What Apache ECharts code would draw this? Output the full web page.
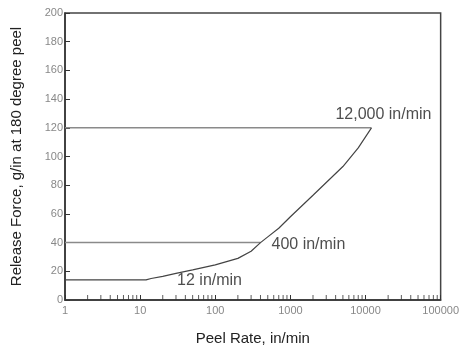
<!DOCTYPE html>
<html>
<head>
<meta charset="utf-8">
<script src="https://cdn.jsdelivr.net/npm/echarts@6/dist/echarts.min.js"></script>
<style>
  html, body { margin: 0; padding: 0; background: #fff; }
  #chart { width: 462px; height: 351px; }
</style>
</head>
<body>
<div id="chart"></div>
<script>
// peel rate (in/min) vs release force (g/in)
var peelRate = [1, 12, 14, 20, 30, 50, 100, 200, 300, 400, 500, 700, 1000, 2000, 5000, 8000, 12000];
var releaseForce = [14, 14, 15, 16.5, 18.5, 21, 24.5, 29, 34, 40, 44, 50, 58, 73, 93, 106, 120];

var refRates = [400, 12000];
var refForces = [40, 120];

var labelPoints = [[12000, 120], [400, 40], [12, 14]];
var labelTexts = ["12,000 in/min", "400 in/min", "12 in/min"];

var minorMult = [2, 3, 4, 5, 6, 7, 8, 9];
var decades = [1, 10, 100, 1000, 10000];

var FONT = "Liberation Sans, Arial, sans-serif";
var DARK = "#333";

var minorTicks = [];
decades.forEach(function (d) {
  minorMult.forEach(function (m) { minorTicks.push([d * m, 0]); });
});

var chart = echarts.init(document.getElementById("chart"));

var refSeries = refRates.map(function (r, i) {
  return {
    type: "line",
    data: [[1, refForces[i]], [r, refForces[i]]],
    symbol: "none",
    lineStyle: { color: "#8a8a8a", width: 1.5 },
    silent: true,
    z: 2
  };
});

var labelPos = [
  { position: "top", distance: 5, offset: [12, 0] },
  { position: "right", distance: 11, offset: [0, 2] },
  { position: "right", distance: 31, offset: [0, 1] }
];

chart.setOption({
  animation: false,
  grid: {
    left: 65, right: 19, top: 13, bottom: 39,
    show: true,
    borderColor: "#444",
    borderWidth: 1.5
  },
  xAxis: {
    type: "log",
    logBase: 10,
    min: 1,
    max: 100000,
    name: "Peel Rate, in/min",
    nameLocation: "middle",
    nameGap: 31,
    nameTextStyle: { color: "#222", fontSize: 15, fontFamily: FONT },
    axisLine: { lineStyle: { color: DARK, width: 1.5 } },
    axisTick: { inside: true, length: 5, lineStyle: { color: DARK } },
    axisLabel: {
      color: "#888", fontSize: 11, fontFamily: FONT, margin: 5,
      formatter: function (v) { return String(Math.round(v)); }
    },
    splitLine: { show: false }
  },
  yAxis: {
    type: "value",
    min: 0,
    max: 200,
    interval: 20,
    name: "Release Force, g/in at 180 degree peel",
    nameLocation: "middle",
    nameGap: 41,
    nameTextStyle: { color: "#222", fontSize: 15, fontFamily: FONT },
    axisLine: { show: true, lineStyle: { color: DARK, width: 1.5 } },
    axisTick: { show: true, inside: true, length: 5, lineStyle: { color: DARK } },
    axisLabel: { color: "#888", fontSize: 11, fontFamily: FONT, margin: 2 },
    splitLine: { show: false }
  },
  series: refSeries.concat([
    {
      type: "line",
      data: peelRate.map(function (r, i) { return [r, releaseForce[i]]; }),
      symbol: "none",
      lineStyle: { color: "#444", width: 1.2 },
      z: 3
    },
    {
      type: "scatter",
      data: minorTicks,
      symbol: "rect",
      symbolSize: [1, 5],
      symbolOffset: [0, -2.5],
      itemStyle: { color: DARK },
      silent: true,
      clip: false,
      z: 4
    },
    {
      type: "scatter",
      data: labelPoints.map(function (p, i) {
        return {
          value: p,
          label: Object.assign({
            show: true,
            formatter: labelTexts[i],
            color: "#222",
            fontSize: 16,
            fontFamily: FONT
          }, labelPos[i])
        };
      }),
      symbolSize: 0,
      silent: true,
      z: 5
    }
  ])
});
</script>
</body>
</html>
